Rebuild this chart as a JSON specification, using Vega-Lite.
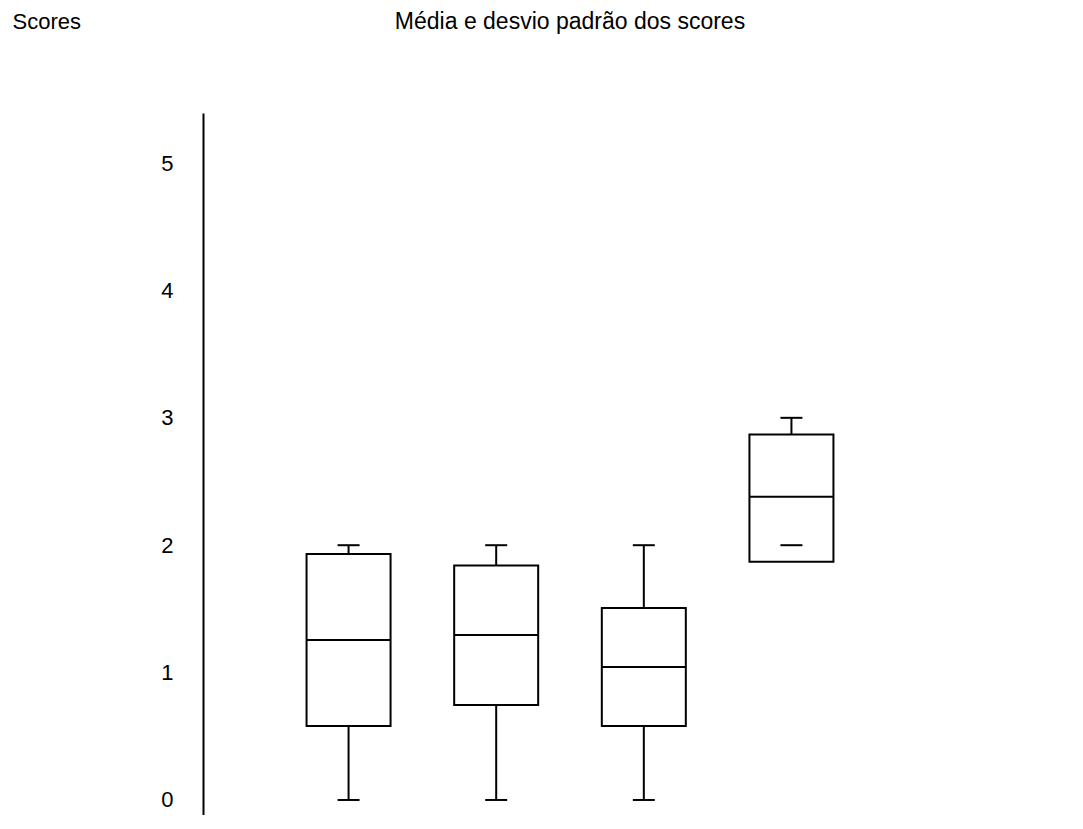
{
  "$schema": "https://vega.github.io/schema/vega-lite/v6.json",
  "autosize": "none",
  "padding": {"left": 203, "top": 113, "right": 0, "bottom": 0},
  "width": 734,
  "height": 702,
  "background": "white",
  "config": {"view": {"stroke": null}, "font": "Liberation Sans"},
  "title": {
    "text": "Média e desvio padrão dos scores",
    "anchor": "middle",
    "frame": "group",
    "fontSize": 23,
    "fontWeight": "normal",
    "font": "Liberation Sans",
    "color": "black",
    "offset": -24
  },
  "data": {
    "values": [
      {"group": "1", "lower": 0, "q1": 0.58, "median": 1.256, "q3": 1.93, "upper": 2.0},
      {"group": "2", "lower": 0, "q1": 0.746, "median": 1.295, "q3": 1.84, "upper": 2.0},
      {"group": "3", "lower": 0, "q1": 0.58, "median": 1.044, "q3": 1.507, "upper": 2.0},
      {"group": "4", "lower": 2.0, "q1": 1.87, "median": 2.38, "q3": 2.87, "upper": 3.0}
    ]
  },
  "encoding": {
    "x": {
      "field": "group",
      "type": "nominal",
      "scale": {"paddingInner": 0, "paddingOuter": 0.486},
      "axis": null
    }
  },
  "layer": [
    {
      "mark": {"type": "rule", "color": "black", "strokeWidth": 2},
      "encoding": {
        "y": {
          "field": "lower",
          "type": "quantitative",
          "scale": {"domain": [-0.118, 5.393], "nice": false, "zero": false},
          "axis": {
            "values": [0, 1, 2, 3, 4, 5],
            "format": "d",
            "ticks": false,
            "grid": false,
            "domainColor": "black",
            "domainWidth": 2,
            "labelPadding": 30,
            "labelFontSize": 22,
            "labelFont": "Liberation Sans",
            "labelColor": "black",
            "title": "Scores",
            "titleAngle": 0,
            "titleAlign": "left",
            "titleBaseline": "alphabetic",
            "titleX": -191,
            "titleY": -85,
            "titleFontSize": 22,
            "titleFontWeight": "normal",
            "titleFont": "Liberation Sans",
            "titleColor": "black"
          }
        },
        "y2": {"field": "upper"}
      }
    },
    {
      "mark": {"type": "bar", "fill": "white", "stroke": "black", "strokeWidth": 2, "size": 84, "opacity": 1},
      "encoding": {
        "y": {"field": "q1", "type": "quantitative"},
        "y2": {"field": "q3"}
      }
    },
    {
      "mark": {"type": "tick", "color": "black", "size": 84, "thickness": 2, "opacity": 1},
      "encoding": {"y": {"field": "median", "type": "quantitative"}}
    },
    {
      "mark": {"type": "tick", "color": "black", "size": 22, "thickness": 2, "opacity": 1},
      "encoding": {"y": {"field": "lower", "type": "quantitative"}}
    },
    {
      "mark": {"type": "tick", "color": "black", "size": 22, "thickness": 2, "opacity": 1},
      "encoding": {"y": {"field": "upper", "type": "quantitative"}}
    }
  ]
}
